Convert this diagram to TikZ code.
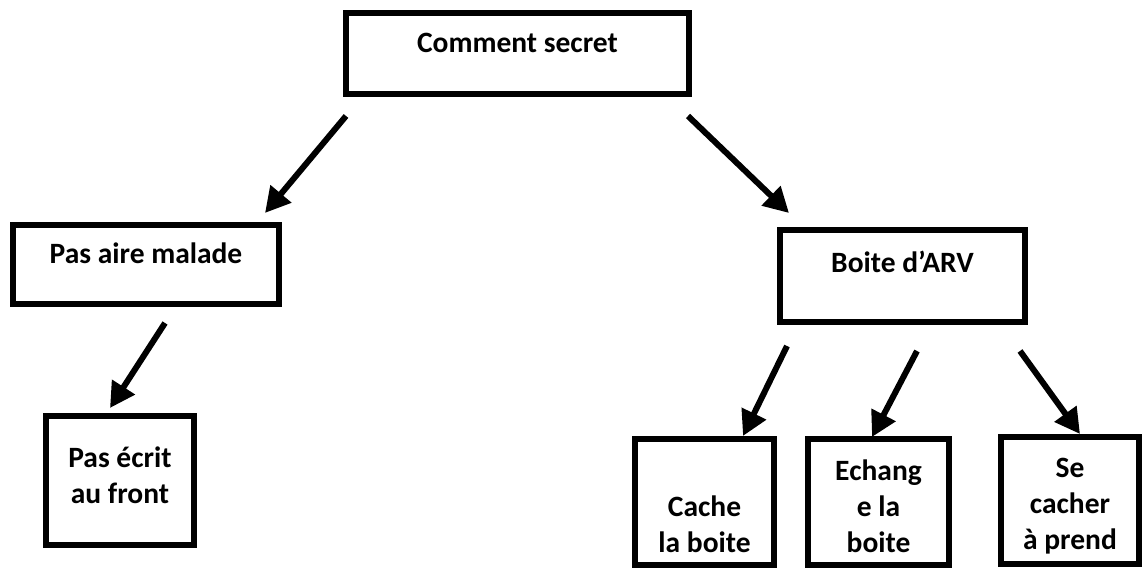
\documentclass[tikz,border=0pt]{standalone}
\usepackage{fontspec}
\setmainfont{Carlito}
\usetikzlibrary{arrows.meta}
\begin{document}
\begin{tikzpicture}[x=1pt,y=-1pt,
  box/.style={draw=black,line width=6pt,fill=none},
  lbl/.style={font=\bfseries\fontsize{29.5}{36}\selectfont,align=center,inner sep=0pt},
  arr/.style={line width=6pt,-{Triangle[length=25pt,width=26pt]}}]
\useasboundingbox (0,0) rectangle (1145,569);
% boxes
\draw[box] (346,13) rectangle (689,94);
\draw[box] (13,225) rectangle (279,304);
\draw[box] (46,416) rectangle (194,545);
\draw[box] (780,230) rectangle (1025,322);
\draw[box] (635,439) rectangle (774,565);
\draw[box] (808,439) rectangle (949,565);
\draw[box] (1001,437) rectangle (1139,564);
% labels
\node[lbl] (cs) at (517.5,43) {Comment secret};
\node[lbl] (pam) at (146,253) {Pas aire malade};
\node[lbl] (pef) at (120,475) {Pas écrit\\au front};
\node[lbl] (arv) at (902.5,262) {Boite d’ARV};
\node[lbl] (clb) at (704.5,524.5) {Cache\\la boite};
\node[lbl] (elb) at (878.5,506) {Echang\\e la\\boite};
\node[lbl] (scp) at (1070,506) {Se\\cacher\\à prend};
% arrow end points
\coordinate (a1s) at (346,116); \coordinate (a1e) at (265,213);
\coordinate (a2s) at (688,116); \coordinate (a2e) at (789,213);
\coordinate (a3s) at (165,323); \coordinate (a3e) at (110,408);
\coordinate (a4s) at (787,346); \coordinate (a4e) at (743,436);
\coordinate (a5s) at (917,351); \coordinate (a5e) at (872,437);
\coordinate (a6s) at (1020,351); \coordinate (a6e) at (1080,434);
\draw[arr] (a1s) -- (a1e);
\draw[arr] (a2s) -- (a2e);
\draw[arr] (a3s) -- (a3e);
\draw[arr] (a4s) -- (a4e);
\draw[arr] (a5s) -- (a5e);
\draw[arr] (a6s) -- (a6e);
\end{tikzpicture}
\end{document}
